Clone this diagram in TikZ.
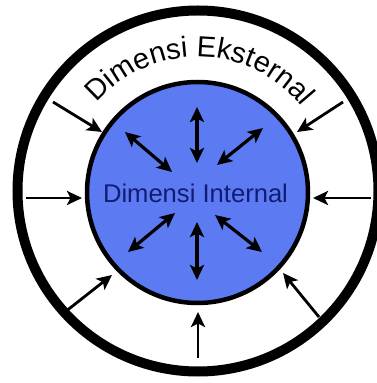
\documentclass[tikz,border=0pt]{standalone}
\usepackage{fontspec}
\setmainfont{Liberation Sans}
\usetikzlibrary{arrows.meta,decorations.text}
\definecolor{innerblue}{RGB}{92,122,242}
\definecolor{navytext}{RGB}{18,28,115}
\tikzset{
  ring/.style={circle, draw=black, line width=10pt, inner sep=0pt, minimum size=361pt},
  core/.style={circle, draw=black, fill=innerblue, line width=4.5pt, inner sep=0pt, minimum size=221pt},
  inarrow/.style={line width=2.8pt, -{Stealth[length=15pt,width=14pt,inset=3.5pt]}},
  twoway/.style={line width=3.2pt, {Stealth[length=15pt,width=14pt,inset=3.5pt]}-{Stealth[length=15pt,width=14pt,inset=3.5pt]}}
}
\begin{document}
\begin{tikzpicture}[x=1pt,y=1pt]
\clip (0,0) rectangle (377,383);
\fill[white] (0,0) rectangle (377,383);
\node[ring] (outer) at (198,192) {};
\node[core] (blue) at (197.5,190.5) {};
\node[anchor=base, text=navytext, font=\fontsize{25.6}{30}\selectfont] (intlabel) at (195.5,180) {Dimensi Internal};
% curved external label
\coordinate (c) at (198,192);
\path[decorate, decoration={text along path, text align=center,
  text={|\fontsize{29}{32}\selectfont|Dimensi Eksternal}}]
  (c) ++(149:134) arc[start angle=149, end angle=29, radius=134];
% outer arrows
\coordinate (tL) at (26,185);   \coordinate (hL) at (82,185);
\coordinate (tR) at (371,185);  \coordinate (hR) at (313,185);
\coordinate (tB) at (198,25);   \coordinate (hB) at (198,71);
\coordinate (tTL) at (53,281);  \coordinate (hTL) at (102,251);
\coordinate (tTR) at (343,281); \coordinate (hTR) at (297,251);
\coordinate (tBL) at (65,71);   \coordinate (hBL) at (112,108);
\coordinate (tBR) at (319,66);  \coordinate (hBR) at (283,110);
\foreach \n in {L,R,B,TL,TR,BL,BR} \draw[inarrow] (t\n) -- (h\n);
% inner double arrows
\coordinate (aU1) at (197,276); \coordinate (aU2) at (197,220);
\coordinate (aD1) at (197,161); \coordinate (aD2) at (197,103);
\coordinate (aTL1) at (125,251); \coordinate (aTL2) at (172,211);
\coordinate (aTR1) at (263,255); \coordinate (aTR2) at (217,218);
\coordinate (aBL1) at (128,131); \coordinate (aBL2) at (175,170);
\coordinate (aBR1) at (215,168); \coordinate (aBR2) at (262,131);
\foreach \n in {U,D,TL,TR,BL,BR} \draw[twoway] (a\n1) -- (a\n2);
\end{tikzpicture}
\end{document}
